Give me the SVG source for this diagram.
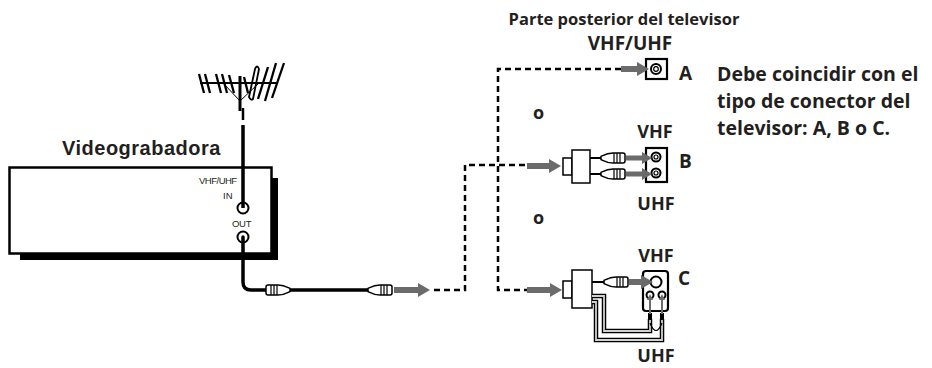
<svg xmlns="http://www.w3.org/2000/svg" width="932" height="368" viewBox="0 0 932 368">
<style>
  .t{font-family:"Open Sans","Liberation Sans",sans-serif;font-weight:700;fill:#231f20}
  .s{font-family:"Liberation Sans",Arial,sans-serif;fill:#231f20}
  .dash{fill:none;stroke:#000;stroke-width:2.5;stroke-dasharray:6 4}
  .cable{fill:none;stroke:#000;stroke-width:3.5;stroke-linecap:round}
  .garrow{stroke:#6b6b6b;stroke-width:6;fill:none}
  .garrow-s{stroke:#6b6b6b;stroke-width:5;fill:none}
  .plug{fill:#fff;stroke:#000;stroke-width:1.5}
  .rib{stroke:#000;stroke-width:1.2}
  .box{fill:#fff;stroke:#000;stroke-width:2.2}
  .jack{fill:#fff;stroke:#000;stroke-width:2}
  .twinO{fill:none;stroke:#000;stroke-width:4.5;stroke-linejoin:miter}
  .twinI{fill:none;stroke:#d0d0d0;stroke-width:1.8;stroke-linejoin:miter}
</style>
<defs>
  <marker id="ah" viewBox="0 0 12 14" refX="4" refY="7" markerWidth="12" markerHeight="14" markerUnits="userSpaceOnUse" orient="auto">
    <path d="M0,0 L12,7 L0,14 Z" fill="#6b6b6b"/>
  </marker>
  <marker id="ahs" viewBox="0 0 10 12" refX="3" refY="6" markerWidth="10" markerHeight="12" markerUnits="userSpaceOnUse" orient="auto">
    <path d="M0,0 L10,6 L0,12 Z" fill="#6b6b6b"/>
  </marker>
  <marker id="aht" viewBox="0 0 6 6" refX="2" refY="3" markerWidth="6" markerHeight="6" markerUnits="userSpaceOnUse" orient="auto">
    <path d="M0,0 L6,3 L0,6 Z" fill="#6b6b6b"/>
  </marker>
  <g id="fplug">
    <path class="plug" d="M2,-5 H12 C18,-5 21,-3 24,-1.5 V1.5 C21,3 18,5 12,5 H2 Q0,5 0,3 V-3 Q0,-5 2,-5 Z"/>
    <line class="rib" x1="5" y1="-5" x2="5" y2="5"/>
    <line class="rib" x1="8" y1="-5" x2="8" y2="5"/>
    <line class="rib" x1="11" y1="-5" x2="11" y2="5"/>
  </g>
</defs>

<!-- VCR -->
<g id="vcr">
  <rect x="20" y="254" width="258" height="6" fill="#000"/>
  <rect x="272" y="178" width="6" height="82" fill="#000"/>
  <rect x="9.5" y="167.5" width="262" height="86" fill="#fff" stroke="#000" stroke-width="2.5"/>
  <text class="s" x="62" y="155" font-size="20" font-weight="700" letter-spacing="0.5">Videograbadora</text>
  <text class="s" x="199" y="184" font-size="9.5" letter-spacing="-0.5">VHF/UHF</text>
  <text class="s" x="223" y="199" font-size="9.5">IN</text>
  <text class="s" x="232" y="227" font-size="9.5" letter-spacing="-0.3">OUT</text>
</g>

<!-- Antenna -->
<g id="antenna" stroke="#000" fill="none">
  <line x1="200" y1="83" x2="277" y2="83" stroke-width="2"/>
  <line x1="240" y1="76" x2="240" y2="111" stroke-width="3"/>
  <line x1="243" y1="108" x2="243" y2="120" stroke-width="2.5"/>
  <line x1="240" y1="101" x2="224" y2="84" stroke-width="1"/>
  <line x1="240" y1="101" x2="258" y2="84" stroke-width="1"/>
  <g stroke-width="2.3">
    <line x1="199" y1="74" x2="204" y2="93"/>
    <line x1="205" y1="74" x2="210" y2="93"/>
    <line x1="216" y1="74" x2="221" y2="93"/>
    <line x1="222" y1="74" x2="227" y2="93"/>
    <line x1="229" y1="75" x2="234" y2="93"/>
    <line x1="244" y1="77" x2="248" y2="93"/>
    <line x1="258" y1="99" x2="268" y2="67"/>
    <line x1="265" y1="101" x2="276" y2="63"/>
    <line x1="272" y1="98" x2="284" y2="63"/>
  </g>
  <path d="M249,97 L255,69 Q257,64 259,69 L253,99 Q251,101 249,97 Z" stroke-width="1.8"/>
</g>

<!-- TV connectors -->
<g id="tv-a">
  <rect class="box" x="646" y="59" width="21" height="20"/>
  <circle cx="656" cy="69" r="5" class="jack"/>
  <circle cx="656" cy="69" r="2.3" fill="none" stroke="#000" stroke-width="1.2"/>
  <text class="t" x="679" y="80" font-size="19" font-weight="400">A</text>
</g>
<g id="tv-b">
  <rect class="box" x="646" y="148" width="21" height="34"/>
  <circle cx="656" cy="157" r="4.5" class="jack"/>
  <circle cx="656" cy="157" r="2" fill="none" stroke="#000" stroke-width="1.2"/>
  <circle cx="656" cy="173" r="4.5" class="jack"/>
  <circle cx="656" cy="173" r="2" fill="none" stroke="#000" stroke-width="1.2"/>
  <text class="t" x="679" y="168" font-size="19" font-weight="400">B</text>
</g>
<g id="tv-c">
  <rect class="box" x="643" y="271" width="25" height="40" rx="3" stroke-width="2.6"/>
  <circle cx="656" cy="282" r="5.5" class="jack"/>
  <circle cx="650" cy="295" r="3.5" class="jack" stroke-width="1.8"/>
  <circle cx="662" cy="295" r="3.5" class="jack" stroke-width="1.8"/>
  <text class="t" x="678" y="285" font-size="19" font-weight="400">C</text>
</g>

<!-- Adapters -->
<g id="adapter-b">
  <rect x="563" y="158" width="9" height="17" class="plug"/>
  <rect x="572" y="150" width="18" height="33" class="plug"/>
  <line x1="590" y1="158" x2="601" y2="158" stroke="#000" stroke-width="2"/>
  <line x1="590" y1="174" x2="601" y2="174" stroke="#000" stroke-width="2"/>
  <use href="#fplug" transform="translate(625,158) scale(-1,1)"/>
  <use href="#fplug" transform="translate(625,174) scale(-1,1)"/>
</g>
<g id="adapter-c">
  <rect x="563" y="281" width="9" height="17" class="plug"/>
  <rect x="572" y="270" width="20" height="38" class="plug"/>
  <line x1="592" y1="282" x2="604" y2="282" stroke="#000" stroke-width="2"/>
  <use href="#fplug" transform="translate(628,282) scale(-1,1)"/>
  <path class="twinO" d="M592,296 H604 V331 H650 V319"/>
  <path class="twinI" d="M592,296 H604 V331 H650 V319"/>
  <path class="twinO" d="M592,302 H596 V340 H662 V319"/>
  <path class="twinI" d="M592,302 H596 V340 H662 V319"/>
  <path d="M650,323 Q656,338 662,323" fill="none" stroke="#000" stroke-width="1.2"/>
  <rect x="648" y="313" width="4" height="7" fill="#000"/>
  <rect x="660" y="313" width="4" height="7" fill="#000"/>
</g>

<!-- Connectors -->
<g id="connectors">
  <circle cx="243" cy="208" r="5.5" class="jack"/>
  <line x1="243" y1="125" x2="243" y2="208" stroke="#000" stroke-width="3.5"/>
  <circle cx="243" cy="237" r="5.5" class="jack"/>
  <path class="cable" d="M243,237 V282 Q243,290 251,290 H370"/>
  <use href="#fplug" transform="translate(266,290)"/>
  <use href="#fplug" transform="translate(392,290) scale(-1,1)"/>
  <line class="garrow" x1="394" y1="290" x2="422" y2="290" marker-end="url(#ah)"/>
  <path class="dash" d="M434,290 H465 V165 H527"/>
  <path class="dash" d="M621,69 H498 V290 H527"/>
  <line class="garrow" x1="527" y1="166" x2="553" y2="166" marker-end="url(#ah)"/>
  <line class="garrow" x1="527" y1="290" x2="554" y2="290" marker-end="url(#ah)"/>
  <line class="garrow" x1="621" y1="69" x2="641" y2="69" marker-end="url(#ah)"/>
  <line class="garrow-s" x1="626" y1="158" x2="645" y2="158" marker-end="url(#ahs)"/>
  <line class="garrow-s" x1="626" y1="174" x2="645" y2="174" marker-end="url(#ahs)"/>
  <line class="garrow" x1="629" y1="282" x2="645" y2="282" marker-end="url(#ah)"/>
  <line x1="650" y1="314" x2="650" y2="298" stroke="#6b6b6b" stroke-width="2" marker-end="url(#aht)"/>
  <line x1="662" y1="314" x2="662" y2="298" stroke="#6b6b6b" stroke-width="2" marker-end="url(#aht)"/>
</g>

<!-- Labels -->
<g id="labels">
  <text class="t" x="624" y="25" font-size="16.5" text-anchor="middle">Parte posterior del televisor</text>
  <text class="t" x="630" y="50" font-size="19" text-anchor="middle">VHF/UHF</text>
  <text class="t" x="533" y="119" font-size="18">o</text>
  <text class="t" x="533" y="224" font-size="18">o</text>
  <text class="t" x="655" y="138" font-size="18" text-anchor="middle">VHF</text>
  <text class="t" x="656" y="210" font-size="18" text-anchor="middle">UHF</text>
  <text class="t" x="656" y="262" font-size="18" text-anchor="middle">VHF</text>
  <text class="t" x="656" y="362" font-size="18" text-anchor="middle">UHF</text>
  <text class="t" x="717" y="81" font-size="19.5" font-weight="600">Debe coincidir con el</text>
  <text class="t" x="717" y="108" font-size="19.5" font-weight="600">tipo de conector del</text>
  <text class="t" x="717" y="135" font-size="19.5" font-weight="600">televisor: A, B o C.</text>
</g>
</svg>
